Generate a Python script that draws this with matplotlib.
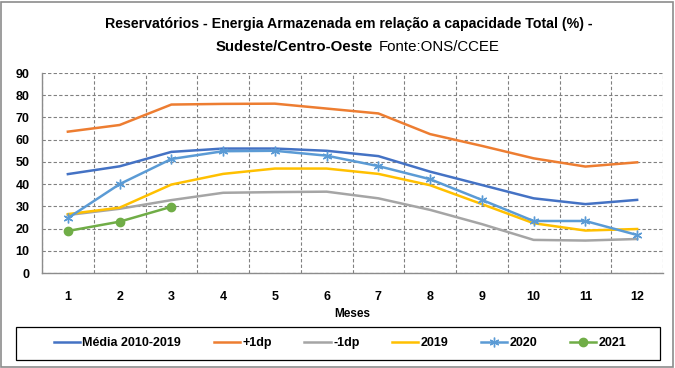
import numpy as np
import matplotlib.pyplot as plt
from matplotlib.patches import Rectangle

meses = [1, 2, 3, 4, 5, 6, 7, 8, 9, 10, 11, 12]
media = [44.5, 48, 54.5, 56, 56, 55, 52.6, 45.6, 39.6, 33.6, 31, 32.9]
mais_dp = [63.6, 66.6, 75.8, 76.1, 76.2, 74, 71.8, 62.5, 57.2, 51.6, 47.9, 49.8]
menos_dp = [26.1, 28.9, 32.8, 36.1, 36.4, 36.6, 33.6, 28.4, 22.0, 14.9, 14.6, 15.3]
ano_2019 = [26.5, 29.4, 39.8, 44.6, 47, 47, 44.6, 39.5, 31.0, 22.4, 19.1, 19.8]
ano_2020 = [24.7, 40, 51.3, 54.8, 55, 52.8, 48.1, 42.2, 32.9, 23.4, 23.4, 17.1]
ano_2021 = [18.9, 23.1, 29.8]

plt.rcParams['font.family'] = ['Liberation Sans', 'DejaVu Sans']

fig = plt.figure(figsize=(6.75, 3.68), dpi=100)
ax = fig.add_axes([42 / 675, 1 - 273 / 368, 621 / 675, 200 / 368])


def ajustar(t, largura):
    # muda a fonte ate o texto ter a largura (px) do original
    r = fig.canvas.get_renderer()
    w = t.get_window_extent(r).width
    t.set_fontsize(t.get_fontsize() * largura / w)
    return t.get_fontsize()


ax.plot(meses, media, color='#4472C4', lw=1.8, label='Média 2010-2019')
ax.plot(meses, mais_dp, color='#ED7D31', lw=1.8, label='+1dp')
ax.plot(meses, menos_dp, color='#A5A5A5', lw=1.8, label='-1dp')
ax.plot(meses, ano_2019, color='#FFC000', lw=1.8, label='2019')
ax.plot(meses, ano_2020, color='#5B9BD5', lw=1.8, marker=(6, 2, 0),
        markersize=7, markeredgewidth=1, label='2020')
ax.plot(meses[:len(ano_2021)], ano_2021, color='#70AD47', lw=1.8, marker='o',
        markersize=6, label='2021')

ax.set_xlim(0.5, 12.5)
ax.set_ylim(0, 90)
ax.set_xticks(meses)
ax.set_xticks(np.arange(0.5, 13, 1), minor=True)
ax.set_yticks(range(0, 91, 10))
ax.tick_params(axis='both', which='both', length=0, labelsize=9)
ax.tick_params(axis='y', pad=9)
ax.tick_params(axis='x', pad=13)
for lab in ax.get_xticklabels() + ax.get_yticklabels():
    lab.set_fontweight('bold')

ax.grid(axis='y', which='major', color='#808080', lw=0.8, linestyle=(0, (3, 2)))
ax.grid(axis='x', which='minor', color='#808080', lw=0.8, linestyle=(0, (3, 2)))
ax.set_axisbelow(True)
for s in ['top', 'right']:
    ax.spines[s].set_visible(False)
for s in ['left', 'bottom']:
    ax.spines[s].set_color('#8C8C8C')
    ax.spines[s].set_linewidth(1)

fig.text(352 / 675, 1 - 314 / 368, 'Meses', ha='center', va='center',
         fontsize=8.5, fontweight='bold')

# titulo em duas linhas, segunda linha com pesos misturados
t1 = fig.text(349 / 675, 1 - 24 / 368,
              'Reservatórios - Energia Armazenada em relação a capacidade Total (%) -',
              ha='center', va='center', fontsize=11, fontweight='bold')
t2 = fig.text(373 / 675, 1 - 47 / 368, 'Sudeste/Centro-Oeste', ha='right',
              va='center', fontsize=11, fontweight='bold')
t3 = fig.text(379 / 675, 1 - 47 / 368, 'Fonte:ONS/CCEE', ha='left',
              va='center', fontsize=11)
ajustar(t1, 490)
t3.set_fontsize(ajustar(t2, 157))

teste = fig.text(0, 0, 'Média 2010-2019', fontsize=9.5, fontweight='bold')
tam_leg = ajustar(teste, 99)
teste.remove()

fig.legend(loc='center', bbox_to_anchor=(340 / 675, 1 - 343 / 368), ncol=6,
           frameon=False, handlelength=2.1, handletextpad=0.2,
           columnspacing=2.6, prop={'weight': 'bold', 'size': tam_leg})

fig.patches.append(Rectangle((16 / 675, 1 - 360 / 368), 644 / 675, 33 / 368,
                             transform=fig.transFigure, fill=False,
                             edgecolor='black', lw=0.9))
fig.patches.append(Rectangle((1 / 675, 1 / 368), 672 / 675, 365 / 368,
                             transform=fig.transFigure, fill=False,
                             edgecolor='#8C8C8C', lw=1.2))

fig.savefig('out.png', dpi=100)
